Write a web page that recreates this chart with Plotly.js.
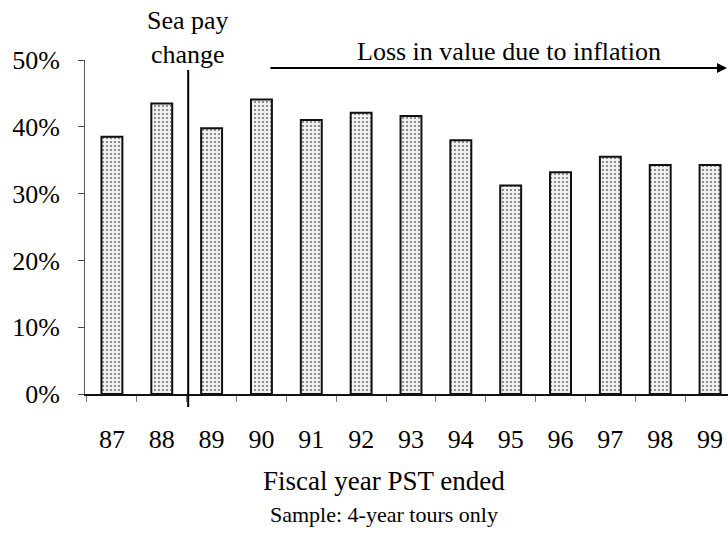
<!DOCTYPE html>
<html>
<head>
<meta charset="utf-8">
<script src="https://cdn.plot.ly/plotly-3.0.1.min.js"></script>
<style>html,body{margin:0;padding:0;background:#fff;}#chart{width:728px;height:534px;}</style>
</head>
<body>
<div id="chart"></div>
<script>
// Data
const years = ["87","88","89","90","91","92","93","94","95","96","97","98","99"];
const shares = [38.5, 43.5, 39.8, 44.1, 41.0, 42.1, 41.6, 38.0, 31.2, 33.2, 35.5, 34.3, 34.3];
const yTicks = [0, 10, 20, 30, 40, 50];
const yTickText = ["0%", "10%", "20%", "30%", "40%", "50%"];
const xTitle = "Fiscal year PST ended";
const xSubtitle = "Sample: 4-year tours only";
const seaPayLabel = "Sea pay<br>change";
const inflationLabel = "Loss in value due to inflation";
const seaPayPos = 1.53;      // between 88 and 89
const inflationStart = 3.15; // just after 90
const inflationEnd = 12.34;
const inflationLevel = 48.8;

const FONT = "Liberation Serif, Times New Roman, serif";

const trace = {
  type: "bar",
  x: years,
  y: shares,
  width: 0.42,
  marker: {
    color: "#eeeeee",
    line: { color: "#111", width: 2 },
    pattern: { shape: ".", fgcolor: "#666", bgcolor: "#f0f0f0", size: 4, solidity: 0.18 }
  },
  hoverinfo: "skip"
};

const layout = {
  width: 728,
  height: 534,
  margin: { l: 85, r: 0, t: 60, b: 140 },
  paper_bgcolor: "#fff",
  plot_bgcolor: "#fff",
  showlegend: false,
  font: { family: FONT, size: 26, color: "#000" },
  xaxis: {
    type: "category",
    range: [-0.54, 12.36],
    showgrid: false,
    zeroline: false,
    showline: true,
    linecolor: "#111",
    linewidth: 2,
    ticks: "outside",
    tickson: "boundaries",
    ticklen: 6,
    tickcolor: "#777",
    tickwidth: 1,
    ticklabelstandoff: 21,
    tickfont: { family: FONT, size: 26, color: "#000" }
  },
  yaxis: {
    range: [0, 50],
    tickvals: yTicks,
    ticktext: yTickText,
    showgrid: false,
    zeroline: false,
    showline: true,
    linecolor: "#555",
    linewidth: 1,
    ticks: "outside",
    ticklen: 6,
    tickcolor: "#444",
    tickwidth: 1,
    ticklabelstandoff: 13,
    tickfont: { family: FONT, size: 26, color: "#000" }
  },
  shapes: [
    {
      type: "line", xref: "x", yref: "paper",
      x0: seaPayPos, x1: seaPayPos, y0: -0.039, y1: 0.97,
      line: { color: "#000", width: 2 }
    }
  ],
  annotations: [
    {
      text: seaPayLabel, xref: "x", yref: "paper", x: seaPayPos, y: 1.066,
      showarrow: false, xanchor: "center", yanchor: "middle",
      font: { family: FONT, size: 26, color: "#000" }
    },
    {
      text: inflationLabel, xref: "x", yref: "paper", x: 7.97, y: 1.024,
      showarrow: false, xanchor: "center", yanchor: "middle",
      font: { family: FONT, size: 26, color: "#000" }
    },
    {
      text: "", xref: "x", yref: "y", x: inflationEnd, y: inflationLevel,
      axref: "x", ayref: "y", ax: inflationStart, ay: inflationLevel,
      showarrow: true, arrowhead: 2, arrowsize: 1, arrowwidth: 2, arrowcolor: "#000",
      standoff: 0, startstandoff: 0
    },
    {
      text: xTitle, xref: "paper", yref: "paper", x: 0.465, y: -0.26,
      showarrow: false, xanchor: "center", yanchor: "middle",
      font: { family: FONT, size: 27, color: "#000" }
    },
    {
      text: xSubtitle, xref: "paper", yref: "paper", x: 0.465, y: -0.362,
      showarrow: false, xanchor: "center", yanchor: "middle",
      font: { family: FONT, size: 22, color: "#000" }
    }
  ]
};

Plotly.newPlot("chart", [trace], layout, { staticPlot: true, displayModeBar: false });
</script>
</body>
</html>
